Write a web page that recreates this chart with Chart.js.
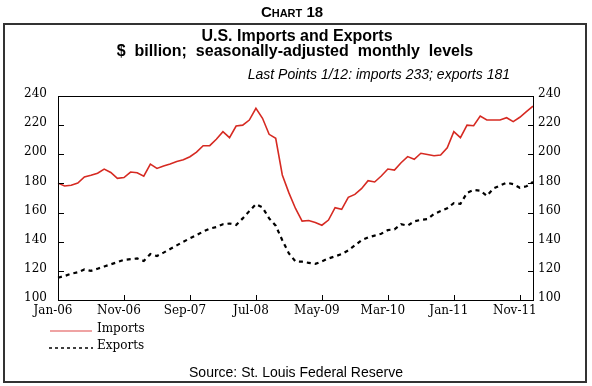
<!DOCTYPE html>
<html>
<head>
<meta charset="utf-8">
<script src="https://cdn.jsdelivr.net/npm/chart.js@4.4.1/dist/chart.umd.min.js"></script>
<style>
  html, body { margin: 0; padding: 0; background: #fff; }
  #wrap { position: relative; width: 592px; height: 386px; }
</style>
</head>
<body>
<div id="wrap"><canvas id="tradeChart"></canvas></div>
<script>
/* ---------- data ---------- */
const monthNames = ['Jan','Feb','Mar','Apr','May','Jun','Jul','Aug','Sep','Oct','Nov','Dec'];
// monthly categories Jan-06 .. Jan-12
const labels = [];
for (let y = 6; y <= 12; y++) {
    monthNames.forEach((m, i) => {
        if (y === 12 && i > 0) return;
        labels.push(m + '-' + String(y).padStart(2, '0'));
    });
}
const tickLabels = ['Jan-06','Nov-06','Sep-07','Jul-08','May-09','Mar-10','Jan-11','Nov-11'];
const yTicks = [100, 120, 140, 160, 180, 200, 220, 240];

const imports = [
    180.2, 178.2, 178.8, 180.2, 184.5, 185.6, 187.0, 189.8, 187.5, 183.5,
    184.0, 187.8, 187.3, 185.0, 193.2, 190.3, 192.0, 193.3, 195.0, 196.2,
    198.3, 201.5, 205.9, 205.9, 210.3, 215.5, 211.4, 219.4, 220.0, 223.5,
    231.5, 224.7, 213.7, 211.0, 185.8, 173.5, 162.8, 154.1, 154.6, 153.2,
    151.3, 154.9, 163.4, 162.2, 170.5, 172.5, 176.4, 181.9, 181.0, 185.1,
    189.9, 189.2, 194.2, 198.4, 196.6, 200.7, 199.8, 199.0, 199.5, 204.5,
    215.5, 211.4, 220.0, 219.6, 226.3, 223.5, 223.5, 223.5, 225.1, 222.4,
    225.4, 229.2, 233.0
];
const exports = [
    115.3, 116.5, 118.0, 119.0, 121.0, 120.0, 121.5, 123.0, 124.5, 126.0,
    127.5, 128.0, 128.5, 126.8, 131.5, 130.2, 132.5, 135.0, 137.5, 140.0,
    142.3, 144.5, 147.0, 149.0, 150.0, 152.0, 152.5, 151.5, 156.0, 161.0,
    165.8, 163.5, 156.0, 151.0, 141.0, 132.0, 126.5, 126.3, 125.5, 124.8,
    126.5, 128.5, 130.0, 131.5, 134.0, 137.5, 141.0, 143.0, 144.2, 145.5,
    148.0, 148.5, 152.0, 151.0, 154.0, 155.0, 155.5, 159.0, 161.0, 163.0,
    166.5, 166.0, 173.5, 175.5, 175.0, 171.5, 176.5, 178.5, 180.5, 179.5,
    177.0, 178.0, 181.0
];

/* ---------- decorations: titles, frame, inward ticks, legend ---------- */
const SANS = '"Liberation Sans", Arial, sans-serif';
const SERIF = '"DejaVu Serif", serif';

const decor = {
    id: 'decor',
    afterDraw(chart) {
        const ctx = chart.ctx;
        const a = chart.chartArea;
        const xs = chart.scales.x, ys = chart.scales.y;
        ctx.save();

        // outer box
        ctx.strokeStyle = '#333';
        ctx.lineWidth = 2;
        ctx.strokeRect(4, 24, 582, 358);

        // "CHART 18" in small caps
        ctx.fillStyle = '#000';
        ctx.textBaseline = 'alphabetic';
        ctx.textAlign = 'left';
        const parts = [['C', 15], ['HART', 11], [' 18', 15]];
        let w = 0;
        parts.forEach(p => { ctx.font = 'bold ' + p[1] + 'px ' + SANS; w += ctx.measureText(p[0]).width; });
        let x = 292 - w / 2;
        parts.forEach(p => {
            ctx.font = 'bold ' + p[1] + 'px ' + SANS;
            ctx.fillText(p[0], x, 17);
            x += ctx.measureText(p[0]).width;
        });

        // titles
        ctx.textAlign = 'center';
        ctx.font = 'bold 16px ' + SANS;
        ctx.fillText('U.S. Imports and Exports', 297, 41);
        ctx.fillText('$  billion;  seasonally-adjusted  monthly  levels', 295, 56);
        ctx.textAlign = 'right';
        ctx.font = 'italic 14px ' + SANS;
        ctx.fillText('Last Points 1/12: imports 233; exports 181', 510, 79);
        ctx.textAlign = 'center';
        ctx.font = '14px ' + SANS;
        ctx.fillText('Source: St. Louis Federal Reserve', 296, 377);

        // plot frame
        ctx.strokeStyle = '#000';
        ctx.lineWidth = 1;
        ctx.strokeRect(Math.round(a.left) + 0.5, Math.round(a.top) + 0.5,
                       Math.round(a.right - a.left), Math.round(a.bottom - a.top));

        // inward tick marks
        ctx.beginPath();
        yTicks.forEach(v => {
            const py = Math.round(ys.getPixelForValue(v)) + 0.5;
            ctx.moveTo(a.left, py); ctx.lineTo(a.left + 6, py);
            ctx.moveTo(a.right - 5, py); ctx.lineTo(a.right, py);
        });
        tickLabels.forEach(l => {
            const px = Math.round(xs.getPixelForValue(labels.indexOf(l))) + 0.5;
            ctx.moveTo(px, a.bottom); ctx.lineTo(px, a.bottom - 5);
        });
        ctx.stroke();

        // legend
        ctx.strokeStyle = '#e04848';
        ctx.lineWidth = 1.2;
        ctx.beginPath(); ctx.moveTo(50, 331); ctx.lineTo(92, 331); ctx.stroke();
        ctx.strokeStyle = '#000';
        ctx.lineWidth = 1.5;
        ctx.setLineDash([3, 3]);
        ctx.beginPath(); ctx.moveTo(49, 348); ctx.lineTo(93, 348); ctx.stroke();
        ctx.setLineDash([]);
        ctx.fillStyle = '#000';
        ctx.textAlign = 'left';
        ctx.font = '12px ' + SERIF;
        ctx.fillText('Imports', 97, 332);
        ctx.fillText('Exports', 97, 349);

        ctx.restore();
    }
};

/* ---------- chart ---------- */
Chart.defaults.font.family = SERIF;
Chart.defaults.color = '#000';

const yAxisBase = {
    min: 100, max: 240,
    grid: { display: false, drawTicks: false },
    border: { display: false },
    ticks: { stepSize: 20, font: { size: 12 }, color: '#000', labelOffset: -2 }
};

new Chart(document.getElementById('tradeChart'), {
    type: 'line',
    data: {
        labels: labels,
        datasets: [
            {
                label: 'Imports',
                data: imports,
                borderColor: '#d62a22',
                borderWidth: 1.6,
                pointRadius: 0,
                tension: 0,
                fill: false,
                yAxisID: 'y'
            },
            {
                label: 'Exports',
                data: exports,
                borderColor: '#000',
                borderWidth: 2.2,
                borderDash: [4, 4],
                pointRadius: 0,
                tension: 0,
                fill: false,
                yAxisID: 'y'
            }
        ]
    },
    options: {
        responsive: true,
        maintainAspectRatio: false,
        animation: false,
        layout: { padding: { top: 96, left: 0, right: 0, bottom: 0 } },
        plugins: {
            legend: { display: false },
            tooltip: { enabled: false }
        },
        scales: {
            x: {
                offset: false,
                grid: { display: false, drawTicks: false },
                border: { display: false },
                ticks: {
                    autoSkip: false,
                    maxRotation: 0,
                    padding: 4,
                    labelOffset: -5,
                    font: { size: 12 },
                    color: '#000',
                    callback: function(v) {
                        const l = this.getLabelForValue(v);
                        return tickLabels.includes(l) ? l : '';
                    }
                },
                afterFit: s => { s.height = 86; }
            },
            y: Object.assign({}, yAxisBase, {
                position: 'left',
                ticks: Object.assign({}, yAxisBase.ticks, { padding: 11 }),
                afterFit: s => { s.width = 58; }
            }),
            y2: Object.assign({}, yAxisBase, {
                position: 'right',
                display: true,
                ticks: Object.assign({}, yAxisBase.ticks, { padding: 5 }),
                afterFit: s => { s.width = 59; }
            })
        }
    },
    plugins: [decor]
});
</script>
</body>
</html>
